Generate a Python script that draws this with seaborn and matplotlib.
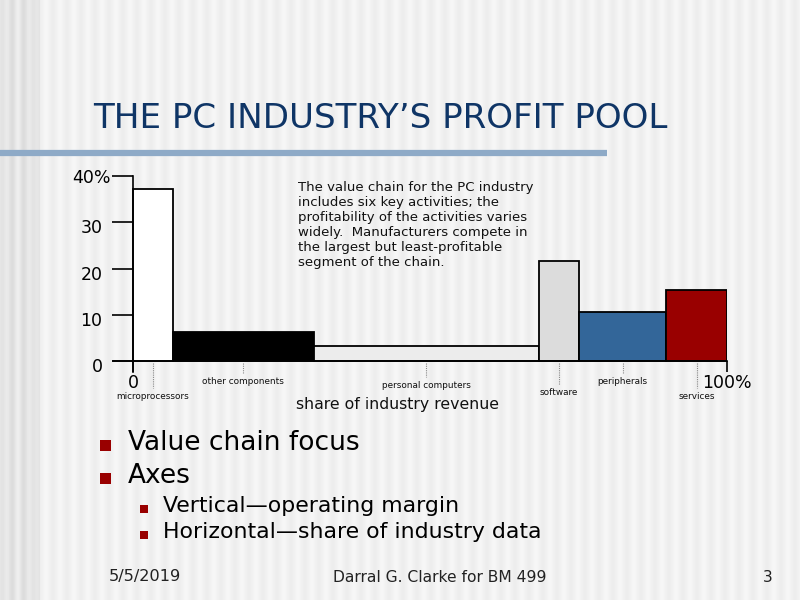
import numpy as np
import matplotlib
matplotlib.use("Agg")
import matplotlib.pyplot as plt
import matplotlib.transforms as mtransforms
import seaborn as sns

# data
segments = ["microprocessors", "other components", "personal computers",
            "software", "peripherals", "services"]
revenue_share = [6.7, 23.7, 38.0, 6.7, 14.7, 10.2]    # % of industry revenue (bar width)
operating_margin = [37.2, 6.3, 3.2, 21.6, 10.6, 15.4]  # % operating margin (bar height)
bar_colors = ["#ffffff", "#000000", "#ececec", "#dcdcdc", "#336699", "#990000"]
y_ticks = [0, 10, 20, 30, 40]
y_tick_labels = ["0", "10", "20", "30", "40%"]

# label levels under the axis (layout only)
label_y = [-7.6, -4.5, -5.2, -6.9, -4.5, -7.6]

sns.set_theme(style="white")
plt.rcParams['font.family'] = ['DejaVu Sans']

W, H = 800, 600
fig = plt.figure(figsize=(8, 6), dpi=100)


def fx(px):
    return px / W


def fy(py):
    return 1 - py / H


# slide background with vertical stripes
bg = fig.add_axes([0, 0, 1, 1])
cols = np.arange(W)
shade = 0.945 + 0.017 * np.sin(cols * 2 * np.pi / 14)
shade[:40] -= 0.05 + 0.02 * np.sin(cols[:40] * 2 * np.pi / 10)
bg.imshow(np.tile(shade, (4, 1)), cmap="gray", vmin=0, vmax=1,
          aspect="auto", extent=[0, 1, 0, 1])
bg.set_axis_off()

# title and rule
fig.text(fx(93), fy(119), "THE PC INDUSTRY\u2019S PROFIT POOL", fontsize=24.6,
         color="#0f3566", va="center", ha="left")
bg.plot([0, fx(607)], [fy(153), fy(153)], color="#8eaac7", lw=4.5,
        solid_capstyle="butt")

# chart axes: x 0..100 -> px 133..727, y 0..40 -> px 361..176
px_per_x = 594 / 100
px_per_y = 185 / 40
xmin = -20 / px_per_x
ymin = -11 / px_per_y
left_px = 133 + xmin * px_per_x
ax = fig.add_axes([fx(left_px), fy(361 - ymin * px_per_y),
                   (727 - left_px) / W, (185 - ymin * px_per_y) / H])
ax.patch.set_alpha(0)

lefts = np.concatenate([[0], np.cumsum(revenue_share)[:-1]])
ax.bar(lefts, operating_margin, width=revenue_share, align="edge",
       color=bar_colors, edgecolor="black", linewidth=1.3, zorder=3)

ax.set_xlim(xmin, 100)
ax.set_ylim(ymin, 40)
for s in ["top", "right"]:
    ax.spines[s].set_visible(False)
ax.spines["left"].set_position(("data", 0))
ax.spines["bottom"].set_position(("data", 0))
for s in ["left", "bottom"]:
    ax.spines[s].set_color("black")
    ax.spines[s].set_linewidth(1.2)
    ax.spines[s].set_zorder(4)

ax.set_yticks(y_ticks)
ax.set_yticklabels(y_tick_labels)
ax.tick_params(axis="y", direction="out", length=15, width=1.2, pad=7,
               labelsize=12.5, color="black", labelcolor="black", left=True)
ax.set_xticks([0, 100])
ax.set_xticklabels(["0", "100%"])
ax.tick_params(axis="x", direction="out", length=8, width=1.2, pad=1,
               labelsize=12.5, color="black", labelcolor="black", bottom=True)
ax.get_xticklabels()[1].set_x(101.3)

# nudge y labels a bit below their ticks, "40%" sits closer to the axis
for i, lbl in enumerate(ax.get_yticklabels()):
    if i < len(y_ticks) - 1:
        off = mtransforms.ScaledTranslation(0, -4 / 100, fig.dpi_scale_trans)
    else:
        off = mtransforms.ScaledTranslation(8 / 100, 0, fig.dpi_scale_trans)
    lbl.set_transform(lbl.get_transform() + off)

# segment labels with dotted leaders
for seg, lx, w, ly in zip(segments, lefts, revenue_share, label_y):
    cx = lx + w / 2
    ax.plot([cx, cx], [-0.4, ly + 1.7], color="#888888", lw=0.8,
            ls=(0, (1, 1)), clip_on=False)
    ax.text(cx, ly, seg, fontsize=6.4, ha="center", va="center",
            color="#111111", clip_on=False)

fig.text(fx(398), fy(404), "share of industry revenue", fontsize=11.3,
         ha="center", va="center", color="#111111")

note = ("The value chain for the PC industry\n"
        "includes six key activities; the\n"
        "profitability of the activities varies\n"
        "widely.  Manufacturers compete in\n"
        "the largest but least-profitable\n"
        "segment of the chain.")
fig.text(fx(298), fy(181), note, fontsize=9.5, ha="left", va="top",
         linespacing=1.2, color="#111111")

# bullets
bullets = [("Value chain focus", 128, 450, 19, 0),
           ("Axes", 128, 483, 19, 0),
           ("Vertical\u2014operating margin", 163, 512, 15.8, 1),
           ("Horizontal\u2014share of industry data", 163, 538, 15.8, 1)]
for txt, x0, base, size, lvl in bullets:
    fig.text(fx(x0), fy(base), txt, fontsize=size, ha="left", va="baseline",
             color="black")
    sq = 11 if lvl == 0 else 8
    sx = 100 if lvl == 0 else 140
    bg.add_patch(plt.Rectangle((fx(sx), fy(base + 1)), sq / W, sq / H,
                               color="#990000", lw=0))

# footer
fig.text(fx(109), fy(577), "5/5/2019", fontsize=11.6, va="center", color="#222222")
fig.text(fx(440), fy(577), "Darral G. Clarke for BM 499", fontsize=11.2,
         ha="center", va="center", color="#222222")
fig.text(fx(768), fy(577), "3", fontsize=11.2, ha="center", va="center",
         color="#222222")

fig.savefig("out.png", dpi=100)
